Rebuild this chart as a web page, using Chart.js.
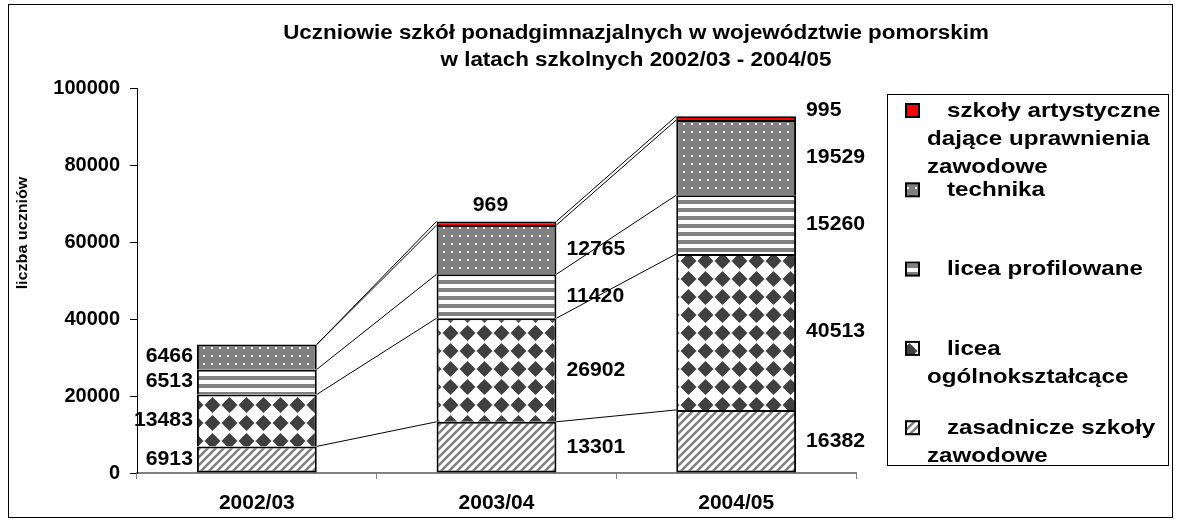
<!DOCTYPE html>
<html>
<head>
<meta charset="utf-8">
<script src="https://cdn.jsdelivr.net/npm/chart.js@4.4.0/dist/chart.umd.min.js"></script>
<style>
  html, body { margin: 0; padding: 0; background: #fff; }
</style>
</head>
<body>
<canvas id="myChart" width="1177" height="519"></canvas>
<script>
// Data
const years = ['2002/03', '2003/04', '2004/05'];
const zasadnicze = [6913, 13301, 16382];
const liceaOgolne = [13483, 26902, 40513];
const liceaProfil = [6513, 11420, 15260];
const technika = [6466, 12765, 19529];
const artystyczne = [null, 969, 995];

const seriesNames = ['zasadnicze szkoły zawodowe', 'licea ogólnokształcące', 'licea profilowane', 'technika', 'szkoły artystyczne dające uprawnienia zawodowe'];
// legend text broken into lines, same order as seriesNames
const legendLines = [
    ['zasadnicze szkoły', 'zawodowe'],
    ['licea', 'ogólnokształcące'],
    ['licea profilowane'],
    ['technika'],
    ['szkoły artystyczne', 'dające uprawnienia', 'zawodowe']
];
const chartTitle = ['Uczniowie szkół ponadgimnazjalnych w województwie pomorskim', 'w latach szkolnych 2002/03 - 2004/05'];
const yTitle = 'liczba uczniów';

const FONT = '"Liberation Sans", Arial, sans-serif';
const ctx = document.getElementById('myChart').getContext('2d');

// fill patterns
function makePattern(w, h, draw) {
    const c = document.createElement('canvas');
    c.width = w; c.height = h;
    draw(c.getContext('2d'), w, h);
    return ctx.createPattern(c, 'repeat');
}

const diagPattern = makePattern(8, 8, (g, w, h) => {
    g.fillStyle = '#fff'; g.fillRect(0, 0, w, h);
    g.strokeStyle = '#808080'; g.lineWidth = 2.6;
    [[-8, 8, 8, -8], [0, 16, 16, 0], [-8, 16, 16, -8]].forEach(l => {
        g.beginPath(); g.moveTo(l[0], l[1]); g.lineTo(l[2], l[3]); g.stroke();
    });
});
const diamondPattern = makePattern(17, 18, (g, w, h) => {
    g.fillStyle = '#fff'; g.fillRect(0, 0, w, h);
    g.fillStyle = '#404040';
    const cx = 8.5, cy = 9;
    g.beginPath();
    g.moveTo(cx, cy - 8); g.lineTo(cx + 8, cy); g.lineTo(cx, cy + 8); g.lineTo(cx - 8, cy);
    g.closePath(); g.fill();
    g.beginPath(); g.arc(cx, cy, 5.5, 0, Math.PI * 2); g.fill();
});
const hStripePattern = makePattern(4, 8, (g, w, h) => {
    g.fillStyle = '#fff'; g.fillRect(0, 0, w, h);
    g.fillStyle = '#808080'; g.fillRect(0, 0, w, 4);
});
const dotPattern = makePattern(8, 8, (g, w, h) => {
    g.fillStyle = '#808080'; g.fillRect(0, 0, w, h);
    g.fillStyle = '#fff'; g.fillRect(3, 3, 2, 2);
});
const fills = [diagPattern, diamondPattern, hStripePattern, dotPattern, '#ff0000'];

// text drawn a bit wider, like the original chart
function wideText(c, text, x, y, sx) {
    c.save();
    c.translate(x, y);
    c.scale(sx, 1);
    c.fillText(text, 0, 0);
    c.restore();
}

// lines joining the tops of the stacked segments between bars
const seriesLines = {
    id: 'seriesLines',
    afterDatasetsDraw(chart) {
        const c = chart.ctx, ys = chart.scales.y;
        const n = chart.data.labels.length;
        const totals = new Array(n).fill(0);
        c.save();
        c.strokeStyle = '#000';
        c.lineWidth = 1;
        chart.data.datasets.forEach((ds, d) => {
            const meta = chart.getDatasetMeta(d);
            for (let i = 0; i < n; i++) totals[i] += ds.data[i] || 0;
            for (let i = 0; i < n - 1; i++) {
                const a = meta.data[i].getProps(['x', 'width'], true);
                const b = meta.data[i + 1].getProps(['x', 'width'], true);
                c.beginPath();
                c.moveTo(a.x + a.width / 2, ys.getPixelForValue(totals[i]));
                c.lineTo(b.x - b.width / 2, ys.getPixelForValue(totals[i + 1]));
                c.stroke();
            }
        });
        c.restore();
    }
};

// value labels next to segments
const valueLabels = {
    id: 'valueLabels',
    afterDatasetsDraw(chart) {
        const c = chart.ctx;
        const last = chart.data.datasets.length - 1;
        c.save();
        c.font = 'bold 20px ' + FONT;
        c.fillStyle = '#000';
        c.textBaseline = 'middle';
        chart.data.datasets.forEach((ds, d) => {
            chart.getDatasetMeta(d).data.forEach((bar, i) => {
                const v = ds.data[i];
                if (v == null) return;
                const p = bar.getProps(['x', 'y', 'base', 'width'], true);
                let x, y = (p.y + p.base) / 2;
                if (i === 0) {
                    c.textAlign = 'right';
                    x = p.x - p.width / 2 - 4;
                } else {
                    c.textAlign = 'left';
                    x = p.x + p.width / 2 + 10;
                }
                if (d === last) {
                    if (i === 1) {
                        c.textAlign = 'center';
                        x = p.x - 6;
                        y = p.y - 16;
                    } else {
                        y = p.y - 6;
                    }
                }
                wideText(c, String(v), x, y, 1.06);
            });
        });
        c.restore();
    }
};

// title, y title, legend, frame
const decorations = {
    id: 'decorations',
    afterDraw(chart) {
        const c = chart.ctx;
        c.save();
        c.strokeStyle = '#000';
        c.lineWidth = 1;
        c.strokeRect(8.5, 4.5, 1164, 513);

        c.fillStyle = '#000';
        c.textAlign = 'center';
        c.textBaseline = 'middle';
        c.font = 'bold 20px ' + FONT;
        wideText(c, chartTitle[0], 636, 33, 1.12);
        wideText(c, chartTitle[1], 636, 60, 1.12);

        c.save();
        c.translate(23, 233);
        c.rotate(-Math.PI / 2);
        c.font = 'bold 14px ' + FONT;
        wideText(c, yTitle, 0, 0, 1.15);
        c.restore();

        // legend box
        c.strokeRect(887.5, 94.5, 281, 371);
        c.textAlign = 'left';
        c.font = 'bold 21px ' + FONT;
        const order = [4, 3, 2, 1, 0];
        order.forEach((d, k) => {
            const y0 = 111 + k * 79.3;
            c.fillStyle = fills[d];
            c.fillRect(906, y0 - 7, 13, 13);
            c.lineWidth = 2;
            c.strokeRect(906, y0 - 7, 13, 13);
            c.fillStyle = '#000';
            legendLines[d].forEach((t, j) => {
                wideText(c, t, j === 0 ? 947 : 927, y0 + j * 28, 1.15);
            });
        });
        c.restore();
    }
};

const seriesData = [zasadnicze, liceaOgolne, liceaProfil, technika, artystyczne];

const data = {
    labels: years,
    datasets: seriesData.map((vals, d) => ({
        label: seriesNames[d],
        data: vals,
        backgroundColor: fills[d],
        borderColor: '#000',
        borderWidth: 2,
        borderSkipped: d === 0 ? false : 'start',
        barPercentage: 0.5,
        categoryPercentage: 1
    }))
};

const config = {
    type: 'bar',
    data,
    options: {
        responsive: false,
        animation: false,
        devicePixelRatio: 1,
        layout: { padding: { top: 88, right: 321, bottom: 0, left: 0 } },
        plugins: {
            legend: { display: false },
            title: { display: false },
            tooltip: { enabled: false }
        },
        scales: {
            x: {
                stacked: true,
                grid: { display: true, drawOnChartArea: false, drawTicks: true, tickLength: 6, color: '#808080', offset: true },
                border: { display: true, color: '#808080', width: 2 },
                ticks: { color: '#000', font: { family: FONT, size: 21, weight: 'bold' }, padding: 12 },
                afterFit(s) { s.height = 46; }
            },
            y: {
                stacked: true,
                min: 0,
                max: 100000,
                grid: { display: true, drawOnChartArea: false, drawTicks: true, tickLength: 7, color: '#000' },
                border: { display: true, color: '#000', width: 1 },
                ticks: {
                    stepSize: 20000,
                    color: '#000',
                    font: { family: FONT, size: 20, weight: 'bold' },
                    padding: 10,
                    callback: v => String(v)
                },
                afterFit(s) { s.width = 137; }
            }
        }
    },
    plugins: [seriesLines, valueLabels, decorations]
};

let myChart = new Chart(ctx, config);
</script>
</body>
</html>
